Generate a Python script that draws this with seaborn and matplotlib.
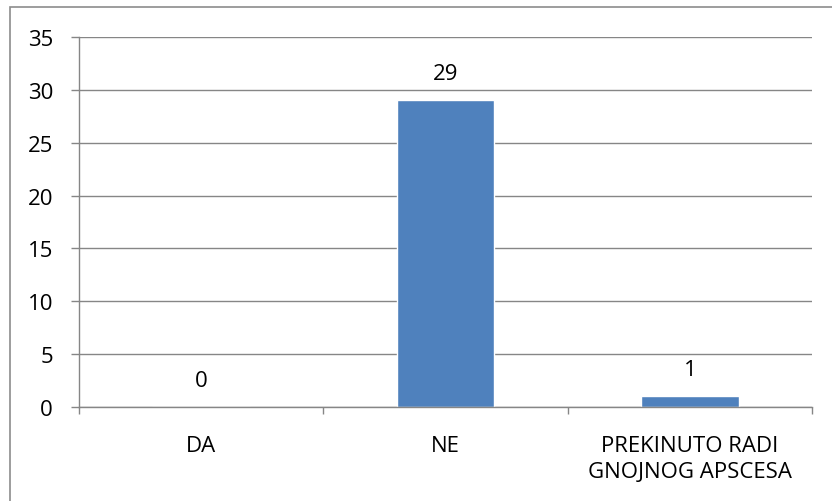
import matplotlib
matplotlib.use("Agg")
import matplotlib.pyplot as plt
import seaborn as sns
import pandas as pd
from matplotlib.patches import Rectangle
from matplotlib.ticker import FixedLocator

categories = ["DA", "NE", "PREKINUTO RADI\nGNOJNOG APSCESA"]
values = [0, 29, 1]
yticks = [0, 5, 10, 15, 20, 25, 30, 35]

sns.set_theme(style="white")
plt.rcParams['font.family'] = ['Open Sans', 'DejaVu Sans']

W, H = 832, 502
PX = 72 / 100  # points per pixel
FS = 16
fig = plt.figure(figsize=(W / 100, H / 100), dpi=100)
ax = fig.add_axes([79 / W, (H - 408) / H, (812 - 79) / W, (408 - 38) / H])

df = pd.DataFrame({"cat": categories, "val": values})
sns.barplot(data=df, x="cat", y="val", color="#4F81BD", saturation=1, width=0.4, ax=ax)

grid_c = "#868686"
ax.set_ylim(0, 35)
ax.set_xlim(-0.5, 2.5)
ax.set_yticks(yticks)
ax.set_yticklabels([str(t) for t in yticks], fontsize=FS, color="black")
ax.yaxis.grid(True, color=grid_c, linewidth=1)
ax.set_axisbelow(True)
ax.set_xlabel("")
ax.set_ylabel("")
for s in ["top", "right"]:
    ax.spines[s].set_visible(False)
for s in ["left", "bottom"]:
    ax.spines[s].set_color(grid_c)
    ax.spines[s].set_linewidth(1)

ax.tick_params(axis="y", which="major", left=True, length=8 * PX, color=grid_c, width=1, pad=18 * PX)
ax.tick_params(axis="x", which="major", bottom=False, labelsize=FS, labelcolor="black", pad=20 * PX)
for lbl in ax.get_xticklabels():
    lbl.set_linespacing(1.3)
ax.xaxis.set_minor_locator(FixedLocator([-0.5, 0.5, 1.5, 2.5]))
ax.tick_params(axis="x", which="minor", bottom=True, length=7 * PX, color=grid_c, width=1)

for i, v in enumerate(values):
    ax.annotate(str(v), (i, v), xytext=(0, 21 * PX), textcoords="offset points",
                ha="center", va="baseline", fontsize=FS, color="black")

fig.patches.append(Rectangle((10 / W, -0.2), 1.2, (H - 8) / H + 0.2,
                             transform=fig.transFigure, fill=False,
                             edgecolor="#8C8C8C", linewidth=1.2))

fig.savefig("out.png", dpi=100)
